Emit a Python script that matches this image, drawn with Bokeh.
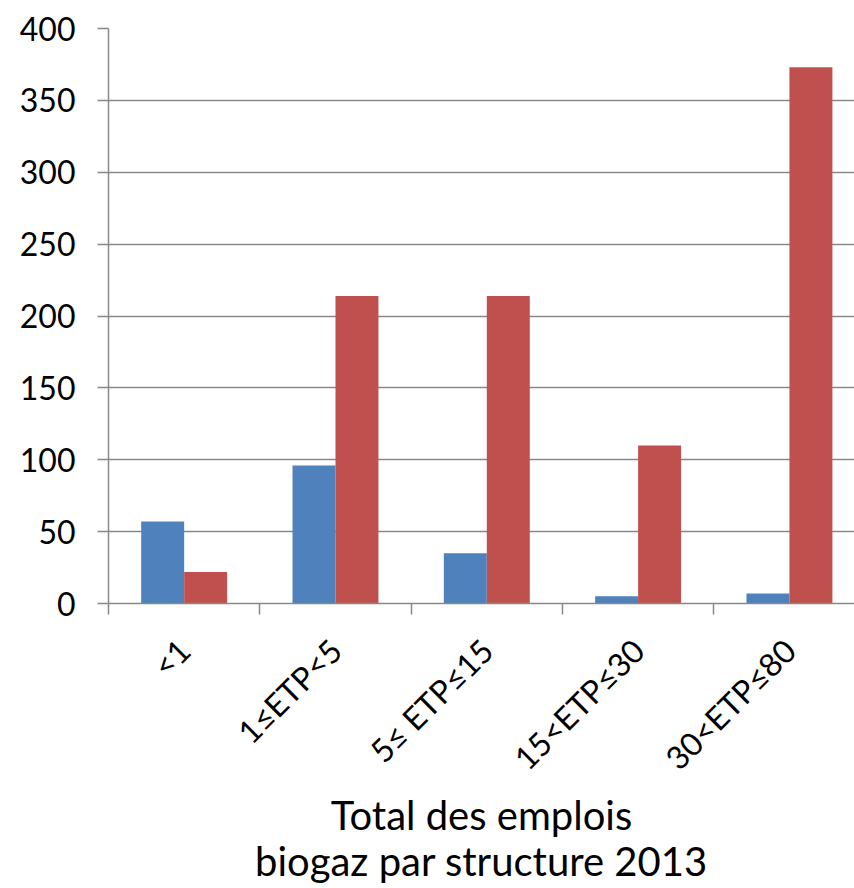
from math import pi
from bokeh.plotting import figure
from bokeh.models import FixedTicker, Title, Range1d
from bokeh.embed import file_html
from bokeh.resources import INLINE

categories = ["<1", "1≤ETP<5", "5≤ ETP≤15", "15<ETP≤30", "30<ETP≤80"]
blue_values = [57, 96, 35, 5, 7]
red_values = [22, 214, 214, 110, 373]
y_ticks = [0, 50, 100, 150, 200, 250, 300, 350, 400]
title_lines = ["Total des emplois", "biogaz par structure 2013"]

BLUE = "#4F81BD"
RED = "#C0504D"
GRID = "#888888"
FONT = "Lato"

n = len(categories)
bar_w = 0.284
centers = [i + 0.5 for i in range(n)]
x_blue = [c - bar_w / 2 for c in centers]
x_red = [c + bar_w / 2 for c in centers]

p = figure(
    frame_width=746, frame_height=575,
    x_range=Range1d(0, 4.93), y_range=Range1d(0, 400),
    output_backend="svg", toolbar_location=None,
    min_border_left=108, min_border_top=28, min_border_right=0, min_border_bottom=0,
)
p.outline_line_color = None
p.background_fill_color = "white"

p.vbar(x=x_blue, top=blue_values, width=bar_w, fill_color=BLUE, line_color=None)
p.vbar(x=x_red, top=red_values, width=bar_w, fill_color=RED, line_color=None)

# y axis
p.yaxis.ticker = FixedTicker(ticks=y_ticks)
p.yaxis.axis_line_color = GRID
p.yaxis.axis_line_width = 1.5
p.yaxis.major_tick_line_color = GRID
p.yaxis.major_tick_line_width = 1.5
p.yaxis.major_tick_in = 0
p.yaxis.major_tick_out = 11
p.yaxis.minor_tick_line_color = None
p.yaxis.major_label_text_font = FONT
p.yaxis.major_label_text_font_size = "32px"
p.yaxis.major_label_text_color = "black"
p.yaxis.major_label_standoff = 22

# x axis
p.xaxis.ticker = FixedTicker(ticks=centers, minor_ticks=list(range(n + 1)))
p.xaxis.major_label_overrides = {c: lab for c, lab in zip(centers, categories)}
p.xaxis.major_label_orientation = pi / 4
p.xaxis.major_tick_line_color = None
p.xaxis.major_tick_in = 0
p.xaxis.major_tick_out = 0
p.xaxis.minor_tick_line_color = GRID
p.xaxis.minor_tick_line_width = 1.5
p.xaxis.minor_tick_in = 0
p.xaxis.minor_tick_out = 11
p.xaxis.axis_line_color = GRID
p.xaxis.axis_line_width = 1.5
p.xaxis.major_label_text_font = FONT
p.xaxis.major_label_text_font_size = "32px"
p.xaxis.major_label_text_color = "black"
p.xaxis.major_label_standoff = 30

p.xgrid.grid_line_color = None
p.ygrid.grid_line_color = GRID
p.ygrid.grid_line_width = 1.5
p.ygrid.ticker = FixedTicker(ticks=y_ticks)

for i, line in enumerate(title_lines):
    t = Title(text=line, align="center", text_font=FONT, text_font_size="40px",
              text_font_style="normal", text_color="black",
              standoff=-9 if i == 0 else 0, offset=0)
    p.add_layout(t, "below")

open("out.html", "w").write(file_html(p, INLINE))
